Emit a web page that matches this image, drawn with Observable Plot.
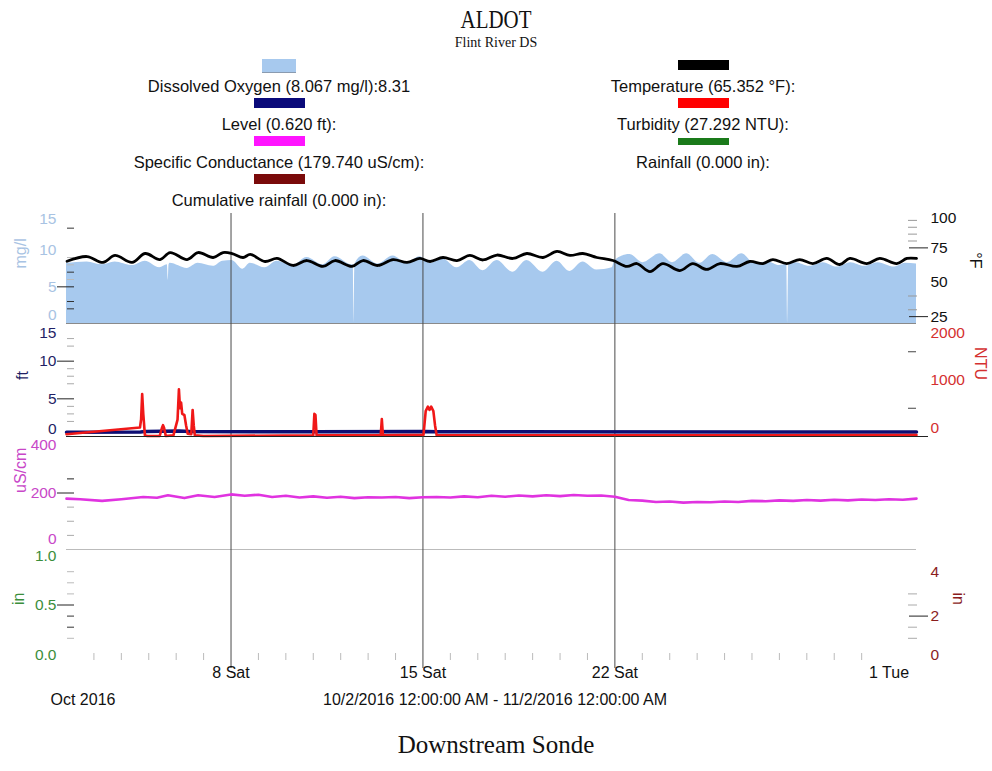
<!DOCTYPE html>
<html><head><meta charset="utf-8">
<script src="https://cdn.jsdelivr.net/npm/d3@7"></script>
<script src="https://cdn.jsdelivr.net/npm/@observablehq/plot@0.6"></script>
<style>
body{margin:0;background:#fff;}
#wrap{position:relative;width:992px;height:771px;background:#fff;font-family:"Liberation Sans",Arial,sans-serif;color:#111;overflow:hidden;}
.t{position:absolute;transform:translate(-50%,-50%);white-space:nowrap;}
.sw{position:absolute;}
</style></head><body><div id="wrap"></div>
<script>
// ---------- DATA ----------
const startISO = "2016-10-02";
const endISO = "2016-11-02";
const gridDates = ["2016-10-08", "2016-10-15", "2016-10-22"];
const labelDates = ["2016-10-08", "2016-10-15", "2016-10-22", "2016-11-01"];

// Dissolved oxygen (days after 10/2 00:00, mg/l)
const doDays = [0,0.75,1.3,1.77,2.4,2.87,3.4,3.68,3.71,3.74,3.78,4.4,4.8,5.35,5.7,6.04,6.44,6.7,7.24,7.68,8.26,8.77,9.35,9.79,10.41,10.46,10.48,10.52,10.81,11.36,11.91,12.42,12.89,13.26,13.73,14.24,14.71,15.19,15.7,16.28,16.79,17.38,17.89,18.36,18.83,19.34,19.9,20.0,20.55,21.02,21.64,22.1,22.62,23.1,23.57,24.1,24.63,25.1,25.6,26.0,26.27,26.3,26.34,26.6,27.1,27.6,28.1,28.6,29.1,29.6,30.2,30.6,31.0];
const doMgL = [8.2,8.4,8.0,8.4,7.9,8.5,7.6,8.0,5.9,8.0,8.2,7.5,8.2,7.8,8.5,8.6,7.4,8.2,7.6,8.5,7.9,9.0,8.0,9.1,8.0,8.0,null,8.1,9.2,8.1,9.2,8.2,9.1,8.2,8.8,7.6,8.6,7.2,8.6,7.0,8.6,7.0,8.5,7.1,8.4,7.3,7.6,8.6,9.4,8.3,9.5,8.3,9.5,8.2,9.4,8.3,9.5,8.2,8.4,7.9,8.0,null,8.0,8.3,7.8,8.3,7.7,8.3,7.8,8.3,7.7,8.2,8.1];

// Temperature (°F)
const tempDays = [0.02,0.75,1.33,1.77,2.39,2.87,3.41,3.78,4.40,4.80,5.35,5.71,6.04,6.44,6.70,7.24,7.68,8.26,8.77,9.35,9.79,10.41,10.81,11.36,11.91,12.42,12.89,13.26,13.73,14.24,14.71,15.19,15.70,16.28,16.79,17.38,17.89,18.36,18.83,19.34,19.93,20.44,20.80,21.28,21.75,22.37,22.84,23.35,23.83,24.45,24.92,25.40,25.76,26.27,26.74,27.22,27.73,28.20,28.57,29.19,29.66,30.28,30.65,31.0];
const tempF = [65.3,68.7,64.4,69.5,64.4,70.9,66.5,71.6,66.5,71.6,68.0,71.6,70.9,68.0,70.2,65.1,67.3,62.2,65.8,61.5,65.8,61.5,65.8,62.2,66.5,64.4,67.3,65.1,68.0,65.8,69.5,66.2,69.8,67.3,70.9,68.0,72.4,69.5,70.9,68.0,65.8,61.5,63.6,57.8,63.6,58.5,63.6,59.3,63.6,61.5,65.1,63.6,66.5,63.6,66.5,63.6,67.3,62.9,67.3,63.6,67.3,63.6,67.3,67.3];

// Level (ft)
const levelDays = [0,2.7,2.9,4.1,4.5,9,13.1,13.5,31];
const levelFt = [0.55,0.6,0.68,0.72,0.65,0.62,0.66,0.62,0.6];

// Turbidity (NTU)
const turbDays = [0,2.68,2.72,2.76,2.8,2.86,2.95,3.4,3.48,3.52,3.56,3.62,3.9,4.05,4.1,4.14,4.18,4.22,4.3,4.36,4.42,4.55,4.6,4.64,4.68,5.0,9.0,9.04,9.08,9.12,11.46,11.5,11.54,13.02,13.1,13.18,13.24,13.3,13.38,13.44,13.5,31];
const turbNTU = [40,160,300,750,400,20,10,10,150,200,150,10,20,300,836,500,600,400,380,200,50,40,470,200,20,10,20,400,380,20,20,310,20,30,450,530,470,530,450,200,20,25];

// Specific conductance (uS/cm)
const condDays = [0,0.5,1.3,2,2.8,3.3,3.7,4.3,4.8,5.4,6.0,6.5,7.0,7.5,8.0,8.5,9.0,9.5,10.0,10.5,11.0,11.5,12.0,12.5,13.0,13.5,14.0,14.5,15.0,15.5,16.0,16.5,17.0,17.5,18.0,18.5,19.0,19.5,20.0,20.5,21.0,21.5,22.0,22.5,23.0,23.5,24.0,24.5,25.0,25.5,26.0,26.5,27.0,27.5,28.0,28.5,29.0,29.5,30.0,30.5,31.0];
const condUS = [180,178,172,178,186,183,192,182,192,186,195,190,194,186,190,184,188,183,187,182,185,184,186,182,185,186,184,188,185,190,187,191,188,192,189,193,190,191,187,175,173,168,170,166,168,167,170,168,172,171,174,172,175,173,176,174,177,175,178,176,180];

// Tick values
const doTicks = [0, 5, 10, 15];
const tempTicks = [25, 50, 75, 100];
const ftTicks = [0, 5, 10, 15];
const ntuTicks = [0, 1000, 2000];
const condTicks = [0, 200, 400];
const rainTicks = [0, 0.5, 1];
const cumTicks = [0, 2, 4];

const legendLeft = ["Dissolved Oxygen (8.067 mg/l):8.31", "Level (0.620 ft):", "Specific Conductance (179.740 uS/cm):", "Cumulative rainfall (0.000 in):"];
const legendRight = ["Temperature (65.352 °F):", "Turbidity (27.292 NTU):", "Rainfall (0.000 in):"];

// ---------- BUILD ----------
const DAY = 864e5;
const START = new Date(startISO).getTime();
const toDate = d => new Date(START + d * DAY);
const rows = (days, vals) => days.map((d, i) => ({date: toDate(d), value: vals[i]}));
const doData = rows(doDays, doMgL);
const tempData = rows(tempDays, tempF);
const levelData = rows(levelDays, levelFt);
const turbData = rows(turbDays, turbNTU);
const condData = rows(condDays, condUS);
const grid = gridDates.map(s => new Date(s));
const labelTicks = labelDates.map(s => new Date(s));
const dailyTicks = d3.utcDay.range(new Date("2016-10-03"), new Date(endISO)).filter(d => !labelDates.includes(d.toISOString().slice(0,10)));
const xDomain = [new Date(startISO), new Date(endISO)];

const FONT = '"Liberation Sans", Arial, sans-serif';
const W = 992, ML = 66, MR = 76;
const wrap = document.getElementById("wrap");
const WD = ["Sun","Mon","Tue","Wed","Thu","Fri","Sat"];
const fmtDay = d => `${d.getUTCDate()} ${WD[d.getUTCDay()]}`;
const plain = d => String(d);

function mk(top, height, yDomain, marks, opts = {}) {
  const mb = opts.mb || 0;
  const svg = Plot.plot({
    width: W, height: height + mb, marginLeft: ML, marginRight: MR, marginTop: 0, marginBottom: mb,
    x: {type: "utc", domain: xDomain, axis: opts.xaxis ? undefined : null},
    y: {domain: yDomain, label: null},
    style: {background: "transparent", overflow: "visible", fontFamily: FONT, fontSize: "15.5px"},
    marks
  });
  svg.style.position = "absolute";
  svg.style.left = "0px";
  svg.style.top = top + "px";
  wrap.appendChild(svg);
}

// helpers for axes
const lab = (ticks, side, color, extra = {}) => Plot.axisY(ticks, {anchor: side, tickSize: 0, tickPadding: side === "left" ? 10 : 14, fill: color, label: null, tickFormat: plain, ...extra});
const tk = (ticks, side, size, shift, color) => Plot.axisY(ticks, {anchor: side, tickSize: size, dx: shift, stroke: color, tickFormat: () => "", label: null});
const ttl = (txt, side, dx, color) => Plot.text([txt], {frameAnchor: side, dx, rotate: side === "left" ? -90 : 90, fill: color, fontSize: 16, fontFamily: FONT});

const cDO = "#a7c9ee", cDOax = "#a8c3e3", cLevel = "#0d0d73", cLevelAx = "#1f1f66", cCond = "#e033e0", cCondAx = "#c847c8";
const cTurb = "#f01818", cTurbAx = "#d43030", cRain = "#3b8e3b", cCum = "#8a1d1d", cGrid = "#4a4a4a";

// Panel 1: DO (left) / Temperature (right)
mk(213, 110, [0, 15], [
  Plot.areaY(doData, {x: "date", y: "value", fill: cDO, curve: "monotone-x"}),
  Plot.ruleY([0], {stroke: "#8a8a8a"}),
  Plot.ruleX(grid, {stroke: cGrid}),
  lab(doTicks.slice(1, 3), "left", cDOax),
  lab([15], "left", cDOax, {dy: 6}),
  lab([0], "left", cDOax, {dy: -8}),
  tk([5], "left", 17, 8, "#222"),
  tk([2, 3, 7, 13], "left", 7, 8, "#333"),
  tk([6, 8, 9], "left", 7, 8, "#bbb"),
  ttl("mg/l", "left", -46, cDOax)
]);
mk(213, 110, [20, 100], [
  Plot.lineY(tempData, {x: "date", y: "value", stroke: "#000", strokeWidth: 2.8, curve: "catmull-rom"}),
  lab(tempTicks.slice(0, 3), "right", "#111"),
  lab([100], "right", "#111", {dy: 5}),
  tk([25, 75], "right", 19, -8, "#222"),
  tk([30, 40, 80, 85, 90, 95], "right", 9, -9, "#999"),
  ttl("°F", "right", 59, "#111")
]);

// Panel 2: Level (left) / Turbidity (right)
mk(323, 113, [0, 15], [
  Plot.ruleX(grid, {stroke: cGrid}),
  Plot.lineY(levelData, {x: "date", y: "value", stroke: cLevel, strokeWidth: 3.5}),
  lab([5, 10], "left", cLevelAx),
  lab([15], "left", cLevelAx, {dy: 10}),
  lab([0], "left", cLevelAx, {dy: -7}),
  tk([5, 10], "left", 17, 8, "#222"),
  tk([2, 3, 4, 7, 8, 9, 12, 13], "left", 7, 8, "#aaa"),
  ttl("ft", "left", -44, cLevelAx)
]);
mk(323, 113, [0, 2000], [
  Plot.lineY(turbData, {x: "date", y: "value", stroke: cTurb, strokeWidth: 2.6}),
  Plot.ruleY([0], {stroke: "#222"}),
  lab([1000], "right", cTurbAx),
  lab([2000], "right", cTurbAx, {dy: 10}),
  lab([0], "right", cTurbAx, {dy: -8}),
  tk([0], "right", 19, -8, "#222"),
  tk([500, 1500], "right", 8, -9, "#444"),
  ttl("NTU", "right", 64, cTurbAx)
]);

// Panel 3: Specific conductance
mk(436, 113, [0, 400], [
  Plot.ruleX(grid, {stroke: cGrid}),
  Plot.ruleY([0], {stroke: "#bbb"}),
  Plot.lineY(condData, {x: "date", y: "value", stroke: cCond, strokeWidth: 2.6}),
  lab([200], "left", cCondAx),
  lab([400], "left", cCondAx, {dy: 9}),
  lab([0], "left", cCondAx, {dy: -10}),
  tk([200], "left", 17, 8, "#222"),
  tk([250], "left", 7, 8, "#222"),
  tk([50, 100, 150], "left", 7, 8, "#aaa"),
  ttl("uS/cm", "left", -46, cCondAx)
]);

// Panel 4: Rainfall (left) / Cumulative rainfall (right) + time axis
mk(549, 111, [0, 1], [
  Plot.ruleX(grid, {stroke: cGrid, insetBottom: -8}),
  Plot.axisX(dailyTicks, {anchor: "bottom", tickSize: 7, dy: -7, stroke: "#bbb", tickFormat: () => "", label: null}),
  Plot.axisX(labelTicks, {anchor: "bottom", tickSize: 0, tickPadding: 6, tickFormat: fmtDay, fill: "#111", label: null, fontSize: 16}),
  lab([0.5], "left", cRain, {tickFormat: ".1f"}),
  lab([1], "left", cRain, {tickFormat: ".1f", dy: 7}),
  lab([0], "left", cRain, {tickFormat: ".1f", dy: -5}),
  tk([0.5], "left", 17, 8, "#222"),
  tk([0.4, 0.3], "left", 7, 8, "#333"),
  tk([0.2, 0.6, 0.7, 0.8], "left", 7, 8, "#bbb"),
  ttl("in", "left", -48, cRain)
], {mb: 30, xaxis: true});
mk(549, 111, [0, 5], [
  lab([2, 4], "right", cCum),
  lab([0], "right", cCum, {dy: -5}),
  tk([2], "right", 19, -8, "#222"),
  tk([1, 1.5, 2.5, 3], "right", 9, -9, "#aaa"),
  ttl("in", "right", 42, cCum)
]);

// ---------- TEXT / LEGEND ----------
function addText(txt, x, y, style) {
  const el = document.createElement("div");
  el.className = "t";
  el.textContent = txt;
  el.style.left = x + "px";
  el.style.top = y + "px";
  Object.assign(el.style, style);
  wrap.appendChild(el);
}
function addSwatch(cx, cy, w, h, color, extra = {}) {
  const el = document.createElement("div");
  el.className = "sw";
  Object.assign(el.style, {left: (cx - w / 2) + "px", top: (cy - h / 2) + "px", width: w + "px", height: h + "px", background: color}, extra);
  wrap.appendChild(el);
}
const serif = '"Liberation Serif", "Times New Roman", serif';
addText("ALDOT", 496, 20, {fontFamily: serif, fontSize: "22px", transform: "translate(-50%,-50%) scale(0.95,1.1)"});
addText("Flint River DS", 496, 43, {fontFamily: serif, fontSize: "14px"});

const leftColors = ["#a7c9ee", "#0a0a7a", "#ff14ff", "#7a0a0a"];
const rightColors = ["#000000", "#ff0000", "#1a7a1a"];
legendLeft.forEach((s, i) => {
  const ty = 86 + i * 38;
  if (i === 0) addSwatch(279, ty - 21, 34, 13, leftColors[i], {borderBottom: "1px solid #8a9bb0"});
  else addSwatch(279, ty - 21, 51, 10, leftColors[i]);
  addText(s, 279, ty, {fontSize: "16.5px"});
});
legendRight.forEach((s, i) => {
  const ty = 86 + i * 38;
  addSwatch(703, ty - 21, 51, i === 2 ? 7 : 10, rightColors[i]);
  addText(s, 703, ty, {fontSize: "16.5px"});
});

addText("Oct 2016", 83, 700, {fontSize: "16px"});
addText("10/2/2016 12:00:00 AM - 11/2/2016 12:00:00 AM", 495, 700, {fontSize: "16px"});
addText("Downstream Sonde", 496, 745, {fontFamily: serif, fontSize: "25px"});
</script>
</body></html>
